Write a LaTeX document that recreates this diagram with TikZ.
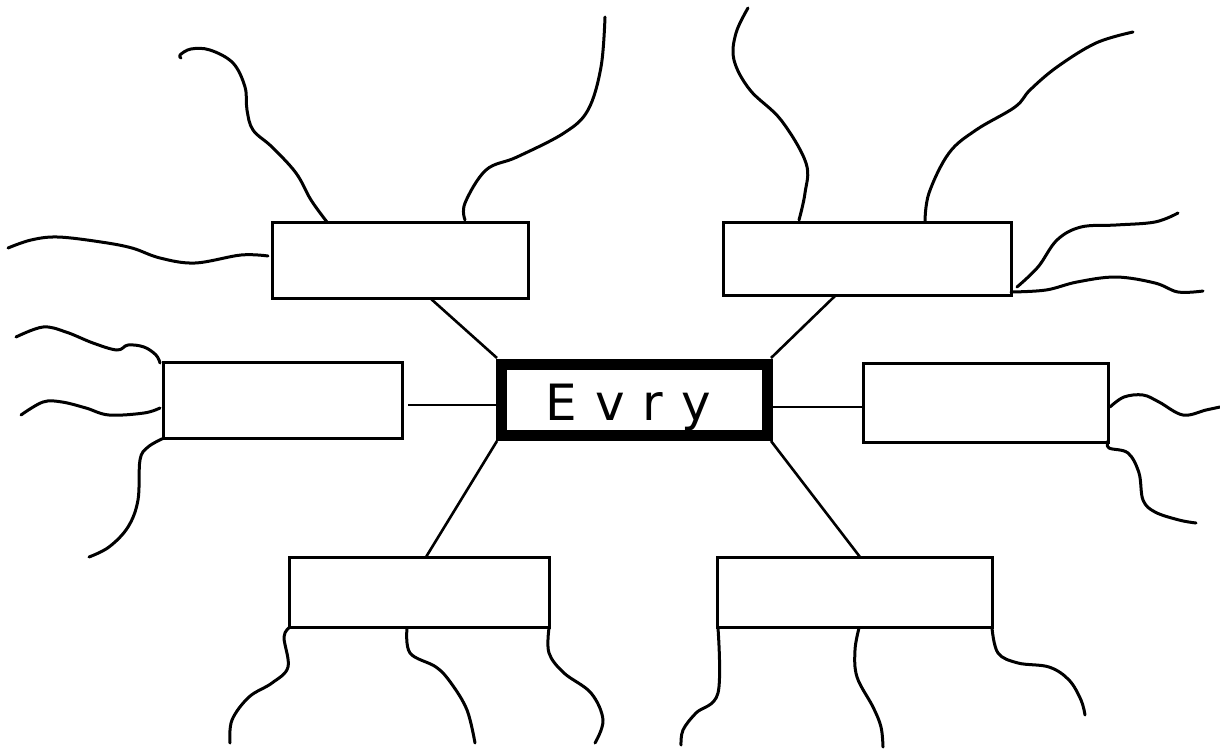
\documentclass[tikz,border=0pt]{standalone}
\usepackage{fontspec}
\newfontfamily\handfont{DejaVu Sans}
\begin{document}
\begin{tikzpicture}[x=0.5pt,y=-0.5pt,
  box/.style={draw,line width=1.5pt,inner sep=0pt,outer sep=0pt,rectangle,fill=white},
  hub/.style={draw,line width=5.5pt,inner sep=0pt,outer sep=0pt,rectangle,fill=white,minimum width=133pt,minimum height=35.5pt},
  link/.style={line width=1.3pt},
  wave/.style={line width=1.5pt,line cap=round,line join=round}]
\useasboundingbox (0,0) rectangle (1220,751);
% link end points on outer boxes
\coordinate (tla) at (430,298);
\coordinate (tra) at (836,295);
\coordinate (mla) at (408,405);
\coordinate (mra) at (863,407);
\coordinate (bla) at (426,557);
\coordinate (bra) at (860,557);
\coordinate (hubnw) at (497,358);
\coordinate (hubne) at (771,358);
\coordinate (hubsw) at (497,441);
\coordinate (hubse) at (771,441);
% connectors
\draw[link] (hubnw) -- (tla);
\draw[link] (hubne) -- (tra);
\draw[link] (hubsw) -- (bla);
\draw[link] (hubse) -- (bra);
\draw[link] (mla) -- (497,405);
\draw[link] (771,407) -- (mra);
% boxes
\node[box,minimum width=128pt,minimum height=38pt] (tl) at (400,260) {};
\node[box,minimum width=144pt,minimum height=36.5pt] (tr) at (867,258.5) {};
\node[box,minimum width=119.5pt,minimum height=38pt] (ml) at (282.5,400) {};
\node[box,minimum width=122.5pt,minimum height=39.5pt] (mr) at (985.5,402.5) {};
\node[box,minimum width=130pt,minimum height=35pt] (bl) at (419,592) {};
\node[box,minimum width=137.5pt,minimum height=35pt] (br) at (854.5,592) {};
\node[hub] (c) at (634,399.5) {};
\node[anchor=base west,inner sep=0pt] (lbl) at (545,420) {\handfont\fontsize{25}{25}\selectfont E\hspace{9pt}v\hspace{9pt}r\hspace{9pt}y};
% wavy lines, top-left box
\draw[wave] plot[smooth,tension=0.6] coordinates {(327,222) (311,200) (296,173) (272,147) (253,130) (247,110) (245,87) (233,63) (210,50) (191,49) (180,55) (181,58)};
\draw[wave] plot[smooth,tension=0.6] coordinates {(465,220) (465,203) (486,170) (517,157) (564,133) (588,110) (601,67) (605,17)};
\draw[wave] plot[smooth,tension=0.6] coordinates {(268,256) (241,255) (195,263) (160,258) (132,248) (101,242) (58,237) (31,240) (8,248)};
% top-right box
\draw[wave] plot[smooth,tension=0.6] coordinates {(799,220) (805,193) (806,163) (781,120) (750,90) (734,60) (736,33) (748,8)};
\draw[wave] plot[smooth,tension=0.6] coordinates {(925,222) (929,193) (949,153) (976,130) (1015,107) (1030,90) (1057,67) (1096,43) (1133,32)};
\draw[wave] plot[smooth,tension=0.6] coordinates {(1017,287) (1038,267) (1057,240) (1081,227) (1116,225) (1155,222) (1178,213)};
\draw[wave] plot[smooth,tension=0.6] coordinates {(1011,292) (1046,290) (1077,282) (1116,277) (1155,283) (1178,292) (1203,291)};
% middle-left box
\draw[wave] plot[smooth,tension=0.6] coordinates {(160,363) (156,355) (144,347) (128,345) (117,350) (93,343) (66,332) (43,327) (16,337)};
\draw[wave] plot[smooth,tension=0.6] coordinates {(160,408) (144,413) (109,415) (86,408) (62,402) (43,402) (21,415)};
\draw[wave] plot[smooth,tension=0.6] coordinates {(164,438) (148,447) (140,460) (138,500) (128,527) (109,547) (89,557)};
% middle-right box
\draw[wave] plot[smooth,tension=0.6] coordinates {(1110,407) (1124,397) (1143,395) (1159,402) (1183,415) (1206,410) (1220,407)};
\draw[wave] plot[smooth,tension=0.6] coordinates {(1108,441) (1109,448) (1128,453) (1139,473) (1143,500) (1155,512) (1179,520) (1196,523)};
% bottom-left box
\draw[wave] plot[smooth,tension=0.6] coordinates {(290,627) (284,637) (288,667) (272,683) (249,697) (232,720) (230,743)};
\draw[wave] plot[smooth,tension=0.6] coordinates {(407,628) (410,653) (436,667) (451,683) (467,710) (475,743)};
\draw[wave] plot[smooth,tension=0.6] coordinates {(549,628) (549,653) (564,673) (591,693) (603,720) (595,743)};
% bottom-right box
\draw[wave] plot[smooth,tension=0.6] coordinates {(718,628) (718,693) (696,713) (683,730) (681,745)};
\draw[wave] plot[smooth,tension=0.6] coordinates {(859,628) (855,650) (857,677) (873,707) (881,727) (883,747)};
\draw[wave] plot[smooth,tension=0.6] coordinates {(992,628) (998,653) (1018,663) (1049,667) (1069,680) (1081,700) (1085,715)};
\end{tikzpicture}
\end{document}
